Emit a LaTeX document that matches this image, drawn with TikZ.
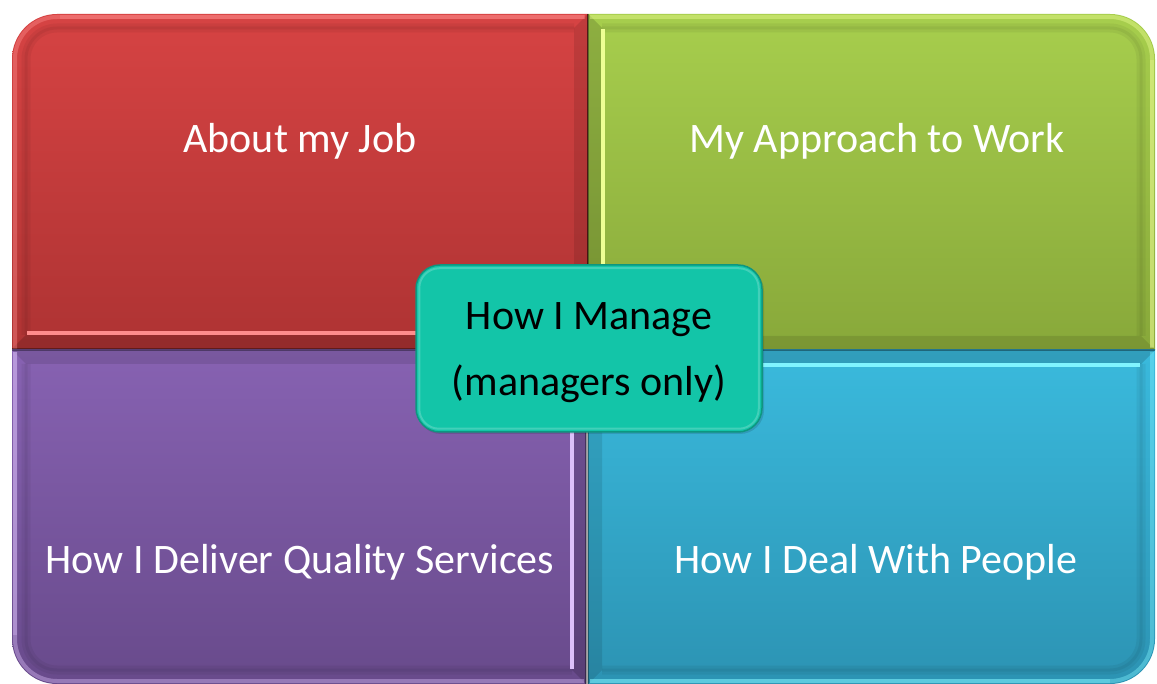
\documentclass[tikz,border=0pt]{standalone}
\usepackage{fontspec}
\setmainfont{Carlito}
\definecolor{redT}{HTML}{D64343}
\definecolor{redB}{HTML}{AE3333}
\definecolor{redL}{HTML}{FF8C8C}
\definecolor{grnT}{HTML}{A7CE4D}
\definecolor{grnB}{HTML}{88A83A}
\definecolor{grnL}{HTML}{EEFF94}
\definecolor{purT}{HTML}{8762B2}
\definecolor{purB}{HTML}{684A8B}
\definecolor{purL}{HTML}{DCC0FA}
\definecolor{bluT}{HTML}{3ABADD}
\definecolor{bluB}{HTML}{2C93B3}
\definecolor{bluL}{HTML}{80F4FF}
\definecolor{tealF}{HTML}{13C5A8}
\definecolor{tealD}{HTML}{0E9680}
\tikzset{
  quadtext/.style={text=white, font=\fontsize{42}{50}\selectfont, anchor=base, inner sep=0pt},
  mgrtext/.style={text=black, font=\fontsize{42}{50}\selectfont, anchor=base, inner sep=0pt},
  mgrbox/.style={rounded corners=24pt, minimum width=346pt, minimum height=167pt, fill=tealF, draw=tealD, line width=1.5pt, inner sep=0pt},
  shadeC/.style={fill=black, opacity=0.15},
  shadeD/.style={fill=black, opacity=0.10},
  brightstrip/.style={line width=4pt},
  outerlight/.style={line width=4pt, opacity=0.4},
  outerlightA/.style={line width=4pt, opacity=0.3},
  innershade/.style={line width=9pt, black, opacity=0.05, line join=round},
  innershadeB/.style={line width=3pt, black, opacity=0.05, line join=round},
  edgedark/.style={line width=1.5pt, black, opacity=0.35}
}
\begin{document}
\begin{tikzpicture}[x=1pt,y=-1pt]
\useasboundingbox (0,0) rectangle (1157,684);
\fill[white] (0,0) rectangle (1157,684);

% ---------------- red quadrant (top-left)
\begin{scope}
\clip[rounded corners=45pt] (12,14) rectangle (900,600);
\shade[top color=redT, bottom color=redB] (12,14) rectangle (588,349);
\fill[shadeC] (12,349) -- (588,349) -- (574,335) -- (26,335) -- cycle;
\fill[shadeD] (588,14) -- (588,349) -- (574,335) -- (574,28) -- cycle;
\draw[innershade, rounded corners=31pt] (26,335) -- (26,28) -- (574,28);
\draw[innershadeB, rounded corners=31pt] (26,335) -- (26,28) -- (574,28);
\draw[brightstrip, redL] (27,333) -- (574,333);
\draw[outerlight, redL, rounded corners=42pt] (15,349) -- (15,17) -- (585,17);
\draw[outerlightA, redL] (60,17) -- (584,17);
\draw[edgedark] (12,349) -- (588,349) -- (588,14);
\end{scope}

% ---------------- green quadrant (top-right)
\begin{scope}
\clip[rounded corners=45pt] (300,14) rectangle (1155,600);
\shade[top color=grnT, bottom color=grnB] (588,14) rectangle (1155,350);
\fill[shadeC] (588,14) -- (588,350) -- (602,336) -- (602,28) -- cycle;
\fill[shadeD] (588,350) -- (1155,350) -- (1141,336) -- (602,336) -- cycle;
\draw[innershade, rounded corners=31pt] (602,28) -- (1141,28) -- (1141,336);
\draw[innershadeB, rounded corners=31pt] (602,28) -- (1141,28) -- (1141,336);
\draw[brightstrip, grnL] (603,29) -- (603,336);
\draw[outerlight, grnL, rounded corners=42pt] (590,17) -- (1152,17) -- (1152,348);
\draw[outerlightA, grnL] (1152,60) -- (1152,347);
\draw[edgedark] (1155,350) -- (588,350) -- (588,14);
\end{scope}

% ---------------- purple quadrant (bottom-left)
\begin{scope}
\clip[rounded corners=45pt] (12,100) rectangle (900,684);
\shade[top color=purT, bottom color=purB] (12,350) rectangle (586,684);
\fill[shadeC] (586,350) -- (586,684) -- (572,670) -- (572,364) -- cycle;
\fill[shadeD] (12,350) -- (586,350) -- (572,364) -- (26,364) -- cycle;
\draw[innershade, rounded corners=31pt] (26,364) -- (26,670) -- (572,670);
\draw[innershadeB, rounded corners=31pt] (26,364) -- (26,670) -- (572,670);
\draw[brightstrip, purL] (572,366) -- (572,669);
\draw[outerlight, purL, rounded corners=42pt] (15,352) -- (15,681) -- (584,681);
\draw[outerlightA, purL] (15,352) -- (15,635);
\draw[edgedark] (12,350) -- (586,350) -- (586,684);
\end{scope}

% ---------------- blue quadrant (bottom-right)
\begin{scope}
\clip[rounded corners=45pt] (300,100) rectangle (1155,684);
\shade[top color=bluT, bottom color=bluB] (588,350) rectangle (1155,684);
\fill[shadeC] (588,350) -- (1155,350) -- (1141,364) -- (602,364) -- cycle;
\fill[shadeD] (588,350) -- (588,684) -- (602,670) -- (602,364) -- cycle;
\draw[innershade, rounded corners=31pt] (1141,364) -- (1141,670) -- (602,670);
\draw[innershadeB, rounded corners=31pt] (1141,364) -- (1141,670) -- (602,670);
\draw[brightstrip, bluL] (603,365) -- (1140,365);
\draw[outerlight, bluL, rounded corners=42pt] (1152,352) -- (1152,681) -- (590,681);
\draw[outerlightA, bluL] (1110,681) -- (590,681);
\draw[edgedark] (588,684) -- (588,350) -- (1155,350);
\end{scope}

% ---------------- quadrant texts
\node[quadtext] (t1) at (300,153) {About my Job};
\node[quadtext] (t2) at (877,153) {My Approach to Work};
\node[quadtext] (t3) at (300,573) {How I Deliver Quality Services};
\node[quadtext] (t4) at (876,573) {How I Deal With People};

% ---------------- centre box
\fill[black, opacity=0.12, rounded corners=24pt] (417,267) rectangle (764,434);
\node[mgrbox] (mgr) at (589,348.5) {};
\draw[white, opacity=0.2, line width=2pt, rounded corners=20pt]
  ([shift={(4,4)}]mgr.north west) rectangle ([shift={(-4,-4)}]mgr.south east);
\node[mgrtext] (m1) at (589,330) {How I Manage};
\node[mgrtext] (m2) at (589,396) {(managers only)};
\end{tikzpicture}
\end{document}
